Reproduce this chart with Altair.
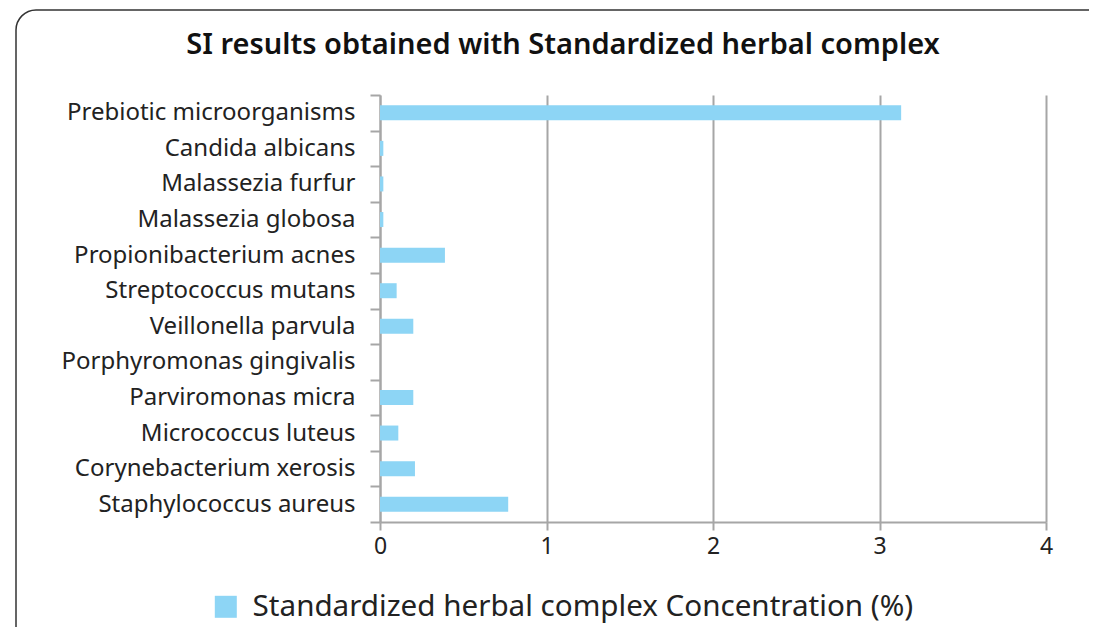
import altair as alt
import pandas as pd

categories = [
    "Prebiotic microorganisms",
    "Candida albicans",
    "Malassezia furfur",
    "Malassezia globosa",
    "Propionibacterium acnes",
    "Streptococcus mutans",
    "Veillonella parvula",
    "Porphyromonas gingivalis",
    "Parviromonas micra",
    "Micrococcus luteus",
    "Corynebacterium xerosis",
    "Staphylococcus aureus",
]
values = [3.13, 0.02, 0.02, 0.02, 0.39, 0.10, 0.20, 0.0, 0.20, 0.11, 0.21, 0.77]
series_name = "Standardized herbal complex Concentration (%)"
x_ticks = [0, 1, 2, 3, 4]

FONT = "Noto Sans"
GRAY = "#a6a6a6"

df = pd.DataFrame({"organism": categories, "value": values, "series": series_name})

bars = alt.Chart(df).mark_bar(height=15, color="#8DD5F5").encode(
    y=alt.Y(
        "organism:N",
        sort=categories,
        scale=alt.Scale(paddingInner=0, paddingOuter=0),
        axis=alt.Axis(
            title=None,
            labelFontSize=24,
            labelFont=FONT,
            labelColor="#222222",
            labelPadding=15,
            tickSize=10,
            tickColor=GRAY,
            tickWidth=2,
            tickBand="extent",
            domainColor=GRAY,
            domainWidth=2,
            grid=False,
            labelLimit=400,
        ),
    ),
    x=alt.X(
        "value:Q",
        scale=alt.Scale(domain=[0, 4], nice=False),
        axis=alt.Axis(
            title=None,
            values=x_ticks,
            format="d",
            labelFontSize=23,
            labelFont=FONT,
            labelColor="#222222",
            labelPadding=5,
            labelFlush=False,
            tickSize=8,
            tickColor=GRAY,
            tickWidth=2,
            domainColor=GRAY,
            domainWidth=2,
            grid=True,
            gridColor=GRAY,
            gridWidth=2,
        ),
    ),
    color=alt.Color(
        "series:N",
        scale=alt.Scale(range=["#8DD5F5"]),
        legend=alt.Legend(
            title=None,
            orient="none",
            legendX=-169,
            legendY=497,
            symbolType="square",
            symbolSize=484,
            symbolStrokeWidth=0,
            labelFontSize=29.6,
            labelFont=FONT,
            labelColor="#222222",
            labelOffset=12,
            labelLimit=900,
        ),
    ),
)

frame = alt.Chart(pd.DataFrame({"a": [0]})).mark_rect(
    fill=None, stroke="#333333", strokeWidth=1.5, cornerRadius=20
).encode(
    x=alt.value(-364), x2=alt.value(728), y=alt.value(-85), y2=alt.value(552)
)

chart = alt.layer(frame, bars).properties(
    width=666,
    height=427,
    padding={"left": 372, "top": 87, "right": 43, "bottom": 105},
    autosize=alt.AutoSizeParams(type="none"),
    title=alt.TitleParams(
        "SI results obtained with Standardized herbal complex",
        font=FONT,
        fontSize=29,
        fontWeight=600,
        color="#111111",
        anchor="middle",
        dx=-150,
        offset=-51,
    ),
).configure_view(stroke=None)

chart.save("out.html", embed_options={"renderer": "svg", "actions": False})
